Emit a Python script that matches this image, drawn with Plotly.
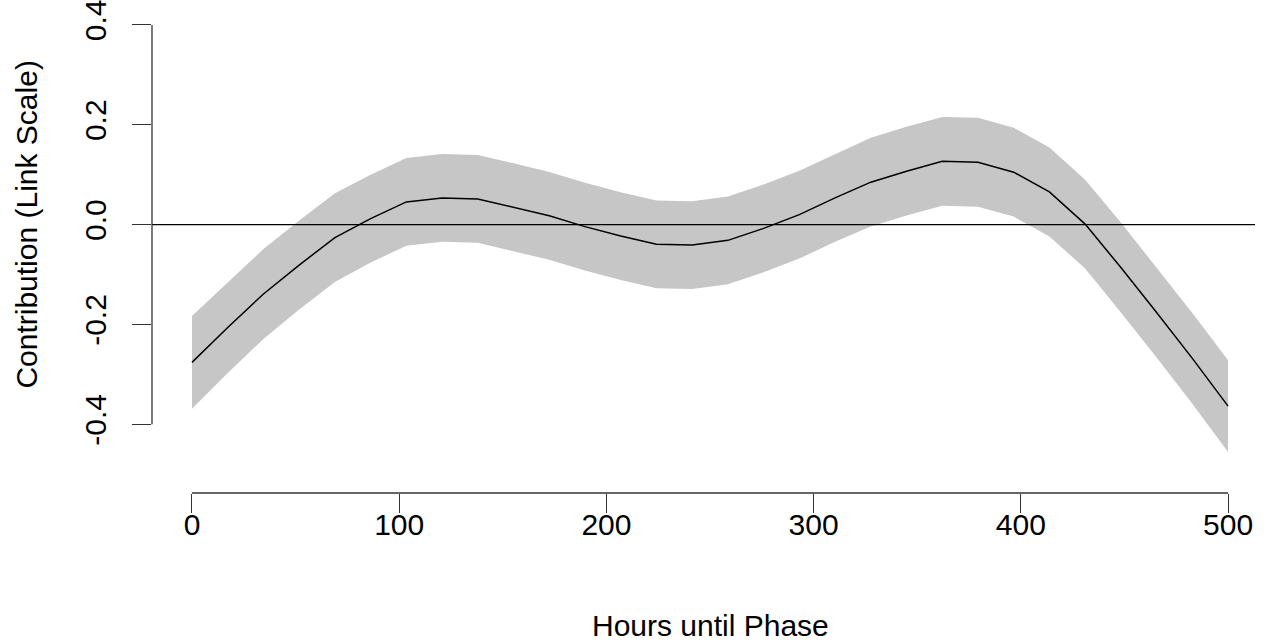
import plotly.graph_objects as go

# Smooth term for hours until phase: fitted contribution and confidence half-width
hours = [0, 17.24, 34.48, 51.72, 68.97, 86.21, 103.45, 120.69, 137.93, 155.17,
         172.41, 189.66, 206.90, 224.14, 241.38, 258.62, 275.86, 293.10, 310.34, 327.59,
         344.83, 362.07, 379.31, 396.55, 413.79, 431.03, 448.28, 465.52, 482.76, 500]
fit = [-0.276, -0.206, -0.139, -0.081, -0.026, 0.012, 0.0455, 0.0535, 0.0515, 0.035,
       0.0176, -0.004, -0.023, -0.0395, -0.041, -0.0315, -0.0076, 0.020, 0.0535, 0.085,
       0.107, 0.1267, 0.125, 0.105, 0.0654, 0.001, -0.086, -0.176, -0.268, -0.3635]
half_width = [0.093, 0.091, 0.090, 0.089, 0.089, 0.088, 0.088, 0.088, 0.088, 0.088,
              0.088, 0.088, 0.088, 0.088, 0.088, 0.088, 0.088, 0.088, 0.088, 0.089,
              0.089, 0.089, 0.089, 0.089, 0.089, 0.089, 0.090, 0.090, 0.091, 0.092]

x_ticks = [0, 100, 200, 300, 400, 500]
y_ticks = [-0.4, -0.2, 0.0, 0.2, 0.4]
y_tick_text = ["-0.4", "-0.2", "0.0", "0.2", "0.4"]

upper = [f + h for f, h in zip(fit, half_width)]
lower = [f - h for f, h in zip(fit, half_width)]

FONT = "Liberation Sans, Arial, Helvetica, sans-serif"
FS = 30
X_RANGE = [-19.3, 513.0]

fig = go.Figure()

# shaded confidence band
fig.add_trace(go.Scatter(
    x=hours + hours[::-1],
    y=upper + lower[::-1],
    fill="toself",
    fillcolor="#C6C6C6",
    line=dict(width=0),
    mode="lines",
    hoverinfo="skip",
    showlegend=False,
))

# fitted smooth
fig.add_trace(go.Scatter(
    x=hours, y=fit, mode="lines",
    line=dict(color="black", width=1.5),
    showlegend=False,
))

# reference line at zero across the plot region
fig.add_shape(type="line", xref="paper", yref="y", x0=0, x1=1, y0=0, y1=0,
              line=dict(color="black", width=1.2))
# axis spines spanning only the tick range
fig.add_shape(type="line", xref="x", yref="paper", x0=x_ticks[0], x1=x_ticks[-1], y0=0, y1=0,
              line=dict(color="#333333", width=1.3))
fig.add_shape(type="line", xref="paper", yref="y", x0=0, x1=0, y0=y_ticks[0], y1=y_ticks[-1],
              line=dict(color="#333333", width=1.3))

fig.update_xaxes(
    range=X_RANGE,
    tickvals=x_ticks,
    ticktext=[str(v) for v in x_ticks],
    ticks="outside", ticklen=19, tickwidth=1.2, tickcolor="#333333",
    showline=False, showgrid=False, zeroline=False,
    tickfont=dict(family=FONT, size=FS, color="black"),
    ticklabelstandoff=-14,
    ticklabeloverflow="allow",
)
fig.update_yaxes(
    range=[-0.5376, 0.4459],
    tickvals=y_ticks,
    ticktext=y_tick_text,
    tickangle=-90,
    ticks="outside", ticklen=19, tickwidth=1.2, tickcolor="#333333",
    showline=False, showgrid=False, zeroline=False,
    tickfont=dict(family=FONT, size=FS, color="black"),
    ticklabelstandoff=14,
    ticklabeloverflow="allow",
)

# axis titles
x_mid = (250 - X_RANGE[0]) / (X_RANGE[1] - X_RANGE[0])
fig.add_annotation(text="Hours until Phase", xref="paper", yref="paper",
                   x=x_mid, y=0, yanchor="middle",
                   yshift=-132, showarrow=False,
                   font=dict(family=FONT, size=FS, color="black"))
fig.add_annotation(text="Contribution (Link Scale)", xref="paper", yref="y",
                   x=0, y=0.0, xanchor="center", xshift=-125, textangle=-90, showarrow=False,
                   font=dict(family=FONT, size=FS, color="black"))

fig.update_layout(
    width=1266, height=642,
    margin=dict(l=152, r=11, t=0, b=149),
    paper_bgcolor="white", plot_bgcolor="white",
    showlegend=False,
)

fig.write_html("out.html")
